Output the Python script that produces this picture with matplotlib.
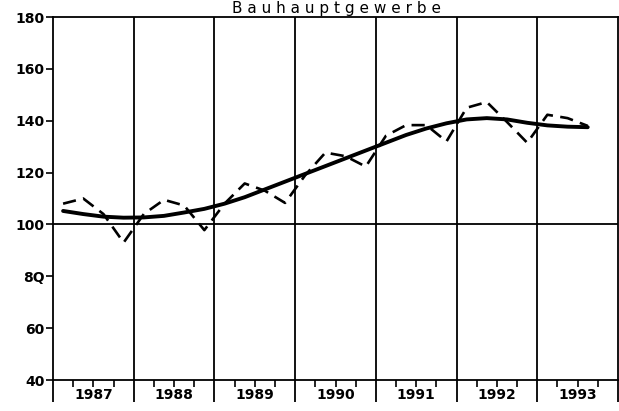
import matplotlib
matplotlib.use("Agg")
import matplotlib.pyplot as plt
import numpy as np

title = "B a u h a u p t g e w e r b e"
years = [1987, 1988, 1989, 1990, 1991, 1992, 1993]
# quarterly index values (1987 Q1 .. 1993 Q3)
actual = [108, 110, 104, 93,
          104, 109.5, 107.3, 97.8,
          108, 115.8, 113, 108.3,
          119, 127.7, 126.3, 122.3,
          134.2, 138.3, 138.3, 132,
          145, 147.2, 139.5, 131.5,
          142.3, 141, 138]
trend = [105.2, 104, 103, 102.6,
         102.7, 103.3, 104.6, 106,
         108, 110.5, 113.5, 116.5,
         119.5, 122.5, 125.5, 128.5,
         131.5, 134.5, 137, 139,
         140.5, 141, 140.5, 139.2,
         138.2, 137.7, 137.5]
yticks = [40, 60, 80, 100, 120, 140, 160, 180]
ytick_labels = ["40", "60", "8Q", "100", "120", "140", "160", "180"]

t = years[0] + (np.arange(len(actual)) + 0.5) / 4.0

fig = plt.figure(figsize=(6.19, 4.11), dpi=100)
ax = fig.add_axes([53 / 619, 1 - 380 / 411, 565 / 619, 363 / 411])
ax.set_xlim(years[0], years[-1] + 1)
ax.set_ylim(40, 180)

for y in years[1:]:
    ax.axvline(y, color="black", lw=1.3)
ax.axhline(100, color="black", lw=1.3)

ax.plot(t, actual, color="black", lw=1.9, dashes=(5, 2.8))
ax.plot(t, trend, color="black", lw=2.8, solid_capstyle="round")

for s in ax.spines.values():
    s.set_linewidth(1.3)

ax.set_yticks(yticks)
ax.set_yticklabels(ytick_labels, fontsize=10, fontweight="bold")
ax.tick_params(axis="y", direction="out", length=5, width=1.2, pad=1)

ax.set_xticks(years + [years[-1] + 1])
ax.set_xticklabels([])
ax.tick_params(axis="x", which="major", direction="out", length=16, width=1.3)
minor = []
minor_labels = []
for y in years:
    for q, lab in zip([0.25, 0.5, 0.75], ["", str(y), ""]):
        minor.append(y + q)
        minor_labels.append(lab)
ax.set_xticks(minor, minor=True)
ax.set_xticklabels(minor_labels, minor=True, fontsize=10, fontweight="bold")
ax.tick_params(axis="x", which="minor", direction="out", length=5, width=1.2, pad=1)

fig.text((53 + 619) / 2 / 619, 1 - 1.5 / 411, title, ha="center", va="top",
         fontsize=11)

fig.savefig("out.png", dpi=100)
